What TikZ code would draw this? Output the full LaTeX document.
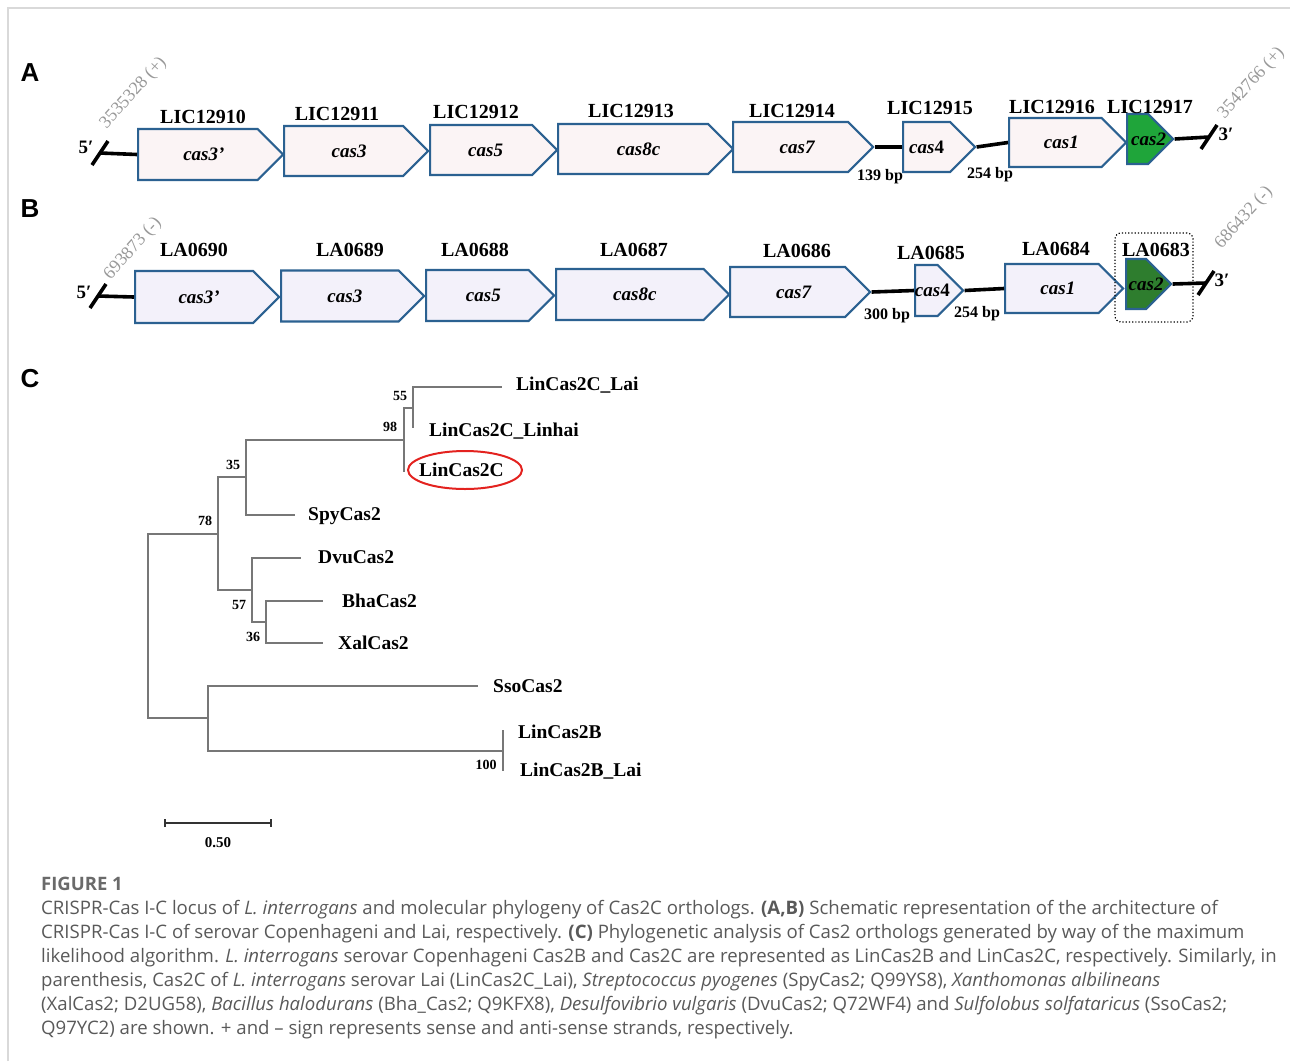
\documentclass[tikz,border=0pt]{standalone}
\usepackage{fontspec}
\setmainfont{Liberation Serif}
\setsansfont{Liberation Sans}
\newfontfamily\leyenda{Open Sans}
\usepackage{tikz}
\usetikzlibrary{positioning,arrows.meta,shapes.symbols}
\definecolor{azul}{HTML}{2B6191}
\definecolor{rosa}{HTML}{FBF4F5}
\definecolor{lila}{HTML}{F3F1FA}
\definecolor{verde}{HTML}{1FA53A}
\definecolor{verdeosc}{HTML}{2E7D2E}
\definecolor{rojo}{HTML}{E3221F}
\definecolor{gris}{HTML}{777777}
\definecolor{texto}{HTML}{595959}
\newcommand{\gnom}[2][11pt]{\makebox[0pt]{\hspace*{#1}#2}}

\begin{document}
\begin{tikzpicture}[x=1pt, y=-1pt,
  gen/.style={signal, signal to=east, signal pointer angle=90, draw=azul, line width=2.2pt,
              inner sep=0pt, anchor=west, font=\fontsize{19}{19}\selectfont\bfseries\itshape},
  locus/.style={font=\fontsize{20}{20}\selectfont\bfseries},
  adn/.style={line width=3.6pt},
  bp/.style={font=\fontsize{16}{16}\selectfont\bfseries},
  prima/.style={font=\fontsize{19}{19}\selectfont\bfseries},
  posic/.style={font=\fontsize{18}{18}\selectfont, text=black!40, rotate=48, anchor=west},
  panel/.style={font=\fontsize{26}{26}\selectfont\sffamily\bfseries},
  rama/.style={draw=gris, line width=1.3pt},
  hoja/.style={font=\fontsize{19.5}{19.5}\selectfont\bfseries, anchor=west, inner sep=0pt},
  boot/.style={font=\fontsize{14}{14}\selectfont\bfseries}
]
  \useasboundingbox (0,0) rectangle (1290,1061);
  \draw[black!15, line width=1.2pt] (8,1061) -- (8,8) -- (1290,8);

  % ---- A: serovar Copenhageni
  \node[panel] (pA) at (30,73) {A};
  \node[posic] at (101,129) {3535328 (+)};
  \node[posic] at (1219,119) {3542766 (+)};
  \coordinate (a5A) at (100,153);
  \coordinate (a3A) at (1209,137);
  \draw[adn] (a5A) ++(-8,12) -- ++(16,-24);
  \draw[adn] (a3A) ++(-8,12) -- ++(16,-24);
  \node[prima] at (86,147) {5′};
  \node[prima] at (1226,134) {3′};

  \node[gen, fill=rosa, minimum width=145, minimum height=51] (c3pA) at (137,154.5) {\gnom[12pt]{cas3’}};
  \node[gen, fill=rosa, minimum width=144, minimum height=50] (c3A) at (283,151) {\gnom{cas3}};
  \node[gen, fill=rosa, minimum width=127, minimum height=50] (c5A) at (429,150) {\gnom[9pt]{cas5}};
  \node[gen, fill=rosa, minimum width=175, minimum height=50] (c8A) at (557,149) {\gnom{cas8c}};
  \node[gen, fill=rosa, minimum width=140, minimum height=50] (c7A) at (732,147) {\gnom[13pt]{cas7}};
  \node[gen, fill=rosa, minimum width=72, minimum height=50] (c4A) at (902,147) {\gnom[0pt]{cas{\upshape 4}}};
  \node[gen, fill=rosa, minimum width=117, minimum height=49] (c1A) at (1008,142.5) {\gnom[12pt]{cas1}};
  \node[gen, fill=verde, minimum width=46, minimum height=50] (c2A) at (1126,139) {\gnom[22pt]{cas2}};

  \draw[adn] (a5A) -- (c3pA.west);
  \draw[adn] (c7A.east) -- (c4A.west);
  \draw[adn] (c4A.east) -- (c1A.west);
  \draw[adn] (c2A.east) -- (a3A);

  \node[locus] at (203,117) {LIC12910};
  \node[locus] at (337,114) {LIC12911};
  \node[locus] at (476,112) {LIC12912};
  \node[locus] at (631,111) {LIC12913};
  \node[locus] at (792,111) {LIC12914};
  \node[locus] at (930,108) {LIC12915};
  \node[locus] at (1052,107) {LIC12916};
  \node[locus] at (1150,107) {LIC12917};
  \node[bp] at (880,177) {139 bp};
  \node[bp] at (990,175) {254 bp};

  % ---- B: serovar Lai
  \node[panel] (pB) at (30,209) {B};
  \node[posic] at (105,280) {693873 (-)};
  \node[posic] at (1216,249) {686432 (-)};
  \coordinate (a5B) at (98,296);
  \coordinate (a3B) at (1206,283);
  \draw[adn] (a5B) ++(-8,12) -- ++(16,-24);
  \draw[adn] (a3B) ++(-8,12) -- ++(16,-24);
  \node[prima] at (84,292) {5′};
  \node[prima] at (1222,280) {3′};

  \node[gen, fill=lila, minimum width=144, minimum height=52] (c3pB) at (134,297) {\gnom[10pt]{cas3’}};
  \node[gen, fill=lila, minimum width=143, minimum height=51] (c3B) at (280,296) {\gnom[10pt]{cas3}};
  \node[gen, fill=lila, minimum width=128, minimum height=51] (c5B) at (425,295.5) {\gnom[12pt]{cas5}};
  \node[gen, fill=lila, minimum width=173, minimum height=51] (c8B) at (555,294.5) {\gnom[10pt]{cas8c}};
  \node[gen, fill=lila, minimum width=140, minimum height=50] (c7B) at (729,292) {\gnom[12pt]{cas7}};
  \node[gen, fill=lila, minimum width=48, minimum height=51] (c4B) at (914,290.5) {\gnom[12pt]{cas{\upshape 4}}};
  \node[gen, fill=lila, minimum width=118, minimum height=49] (c1B) at (1004,288.5) {\gnom[12pt]{cas1}};
  \node[gen, fill=verdeosc, minimum width=45, minimum height=50] (c2B) at (1125,284) {\gnom[20pt]{cas2}};
  \node[draw, dotted, line width=1.2pt, rounded corners=6pt, minimum width=78, minimum height=89] (sel) at (1154,277.5) {};

  \draw[adn] (a5B) -- (c3pB.west);
  \draw[adn] (c7B.east) -- (c4B.west);
  \draw[adn] (c4B.east) -- (c1B.west);
  \draw[adn] (c2B.east) -- (a3B);

  \node[locus] at (194,250) {LA0690};
  \node[locus] at (350,250) {LA0689};
  \node[locus] at (475,250) {LA0688};
  \node[locus] at (634,250) {LA0687};
  \node[locus] at (797,251) {LA0686};
  \node[locus] at (931,253) {LA0685};
  \node[locus] at (1056,249) {LA0684};
  \node[locus] at (1156,250) {LA0683};
  \node[bp] at (887,316) {300 bp};
  \node[bp] at (977,314) {254 bp};

  % ---- C: arbol de Cas2
  \node[panel] (pC) at (30,379) {C};
  \coordinate (nR) at (148,626);
  \coordinate (n78) at (218,534);
  \coordinate (nB) at (208,718);
  \coordinate (n35) at (246,477);
  \coordinate (nD) at (252,590);
  \coordinate (n98) at (404,440);
  \coordinate (n55) at (413,408);
  \coordinate (n36) at (266,622);
  \coordinate (nLB) at (503,751);
  \coordinate (tLai) at (502,387);
  \coordinate (tLin) at (413,428);
  \coordinate (tC) at (404,472);
  \coordinate (tSpy) at (295,515);
  \coordinate (tDvu) at (301,558);
  \coordinate (tBha) at (323,601);
  \coordinate (tXal) at (323,643);
  \coordinate (tSso) at (478,686);
  \coordinate (tB) at (503,730);
  \coordinate (tBLai) at (503,771);

  \draw[rama] (nR) |- (n78);
  \draw[rama] (nR) |- (nB);
  \draw[rama] (n78) |- (n35);
  \draw[rama] (n78) |- (nD);
  \draw[rama] (n35) |- (n98);
  \draw[rama] (n35) |- (tSpy);
  \draw[rama] (n98) |- (n55);
  \draw[rama] (n98) |- (tC);
  \draw[rama] (n55) |- (tLai);
  \draw[rama] (n55) |- (tLin);
  \draw[rama] (nD) |- (tDvu);
  \draw[rama] (nD) |- (n36);
  \draw[rama] (n36) |- (tBha);
  \draw[rama] (n36) |- (tXal);
  \draw[rama] (nB) |- (tSso);
  \draw[rama] (nB) |- (nLB);
  \draw[rama] (nLB) |- (tB);
  \draw[rama] (nLB) |- (tBLai);

  \node[hoja] (lLai) at (516,385) {LinCas2C\_Lai};
  \node[hoja] (lLin) at (429,431) {LinCas2C\_Linhai};
  \node[hoja] (lC) at (419,470) {LinCas2C};
  \node[hoja] (lSpy) at (308,516) {SpyCas2};
  \node[hoja] (lDvu) at (318,557) {DvuCas2};
  \node[hoja] (lBha) at (342,601) {BhaCas2};
  \node[hoja] (lXal) at (338,643) {XalCas2};
  \node[hoja] (lSso) at (493,686) {SsoCas2};
  \node[hoja] (lB) at (518,732) {LinCas2B};
  \node[hoja] (lBLai) at (520,771) {LinCas2B\_Lai};
  \draw[rojo, line width=2pt] (465,470) ellipse [x radius=57, y radius=19];

  \node[boot] at (400,396) {55};
  \node[boot] at (390,427) {98};
  \node[boot] at (233,465) {35};
  \node[boot] at (205,521) {78};
  \node[boot] at (239,605) {57};
  \node[boot] at (253,637) {36};
  \node[boot] at (486,765) {100};

  \coordinate (e0) at (164,823);
  \coordinate (e1) at (272,823);
  \draw[black!80, line width=1.8pt, {Bar[width=8pt]}-{Bar[width=8pt]}] (e0) -- (e1);
  \node[font=\fontsize{15}{15}\selectfont\bfseries] at (218,843) {0.50};

  % ---- leyenda
  \node[anchor=west, inner sep=0pt, text=texto!90, font=\leyenda\fontsize{18.5}{18.5}\selectfont\bfseries] (fig) at (41,884) {FIGURE 1};
  \node[anchor=north west, inner sep=0pt, align=left, text=texto, font=\leyenda\fontsize{18.6}{24}\selectfont] (ley) at (41,900)
    {CRISPR-Cas I-C locus of \textit{L. interrogans} and molecular phylogeny of Cas2C orthologs. \textbf{(A,B)} Schematic representation of the architecture of\\
     CRISPR-Cas I-C of serovar Copenhageni and Lai, respectively. \textbf{(C)} Phylogenetic analysis of Cas2 orthologs generated by way of the maximum\\
     likelihood algorithm. \textit{L. interrogans} serovar Copenhageni Cas2B and Cas2C are represented as LinCas2B and LinCas2C, respectively. Similarly, in\\
     parenthesis, Cas2C of \textit{L. interrogans} serovar Lai (LinCas2C\_Lai), \textit{Streptococcus pyogenes} (SpyCas2; Q99YS8), \textit{Xanthomonas albilineans}\\
     (XalCas2; D2UG58), \textit{Bacillus halodurans} (Bha\_Cas2; Q9KFX8), \textit{Desulfovibrio vulgaris} (DvuCas2; Q72WF4) and \textit{Sulfolobus solfataricus} (SsoCas2;\\
     Q97YC2) are shown. + and – sign represents sense and anti-sense strands, respectively.};
\end{tikzpicture}
\end{document}
